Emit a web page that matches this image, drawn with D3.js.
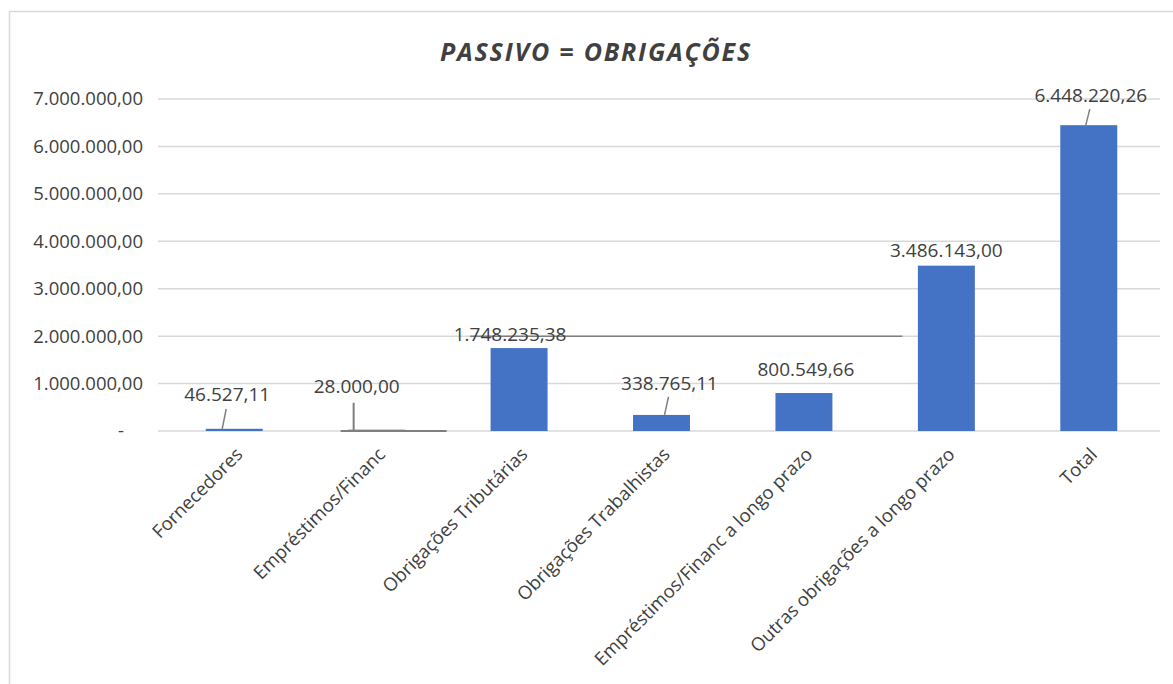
<!DOCTYPE html>
<html>
<head>
<meta charset="utf-8">
<script src="https://cdn.jsdelivr.net/npm/d3@7"></script>
<style>
  html, body { margin: 0; padding: 0; background: #fff; }
  svg { display: block; font-family: "Open Sans", "Noto Sans", sans-serif; }
</style>
</head>
<body>
<div id="chart"></div>
<script>
// Chart data
const categories = [
    'Fornecedores',
    'Empréstimos/Financ',
    'Obrigações Tributárias',
    'Obrigações Trabalhistas',
    'Empréstimos/Financ a longo prazo',
    'Outras obrigações a longo prazo',
    'Total'
];
const values = [46527.11, 28000.00, 1748235.38, 338765.11, 800549.66, 3486143.00, 6448220.26];
const yTicks = [0, 1000000, 2000000, 3000000, 4000000, 5000000, 6000000, 7000000];
const chartTitle = 'PASSIVO = OBRIGAÇÕES';

const width = 1173;
const height = 684;
const margin = {top: 99, right: 13, bottom: 253, left: 163};

const ptBR = d3.formatLocale({decimal: ',', thousands: '.', grouping: [3], currency: ['R$', '']});
const fmt = ptBR.format(',.2f');

const svg = d3.select('#chart')
    .append('svg')
    .attr('width', width)
    .attr('height', height);

// chart area border
svg.append('rect')
    .attr('x', 9.5)
    .attr('y', 11.5)
    .attr('width', width + 20)
    .attr('height', height + 20)
    .style('fill', 'none')
    .style('stroke', '#d9d9d9')
    .style('stroke-width', 1.5);

const x = d3.scaleBand()
    .domain(categories)
    .range([margin.left, width - margin.right])
    .paddingInner(0.6)
    .paddingOuter(0.3);

const y = d3.scaleLinear()
    .domain([0, 7000000])
    .range([height - margin.bottom, margin.top]);

// Title
svg.append('text')
    .attr('x', 596)
    .attr('y', 61)
    .attr('text-anchor', 'middle')
    .style('font-size', '25px')
    .style('font-weight', 'bold')
    .style('font-style', 'italic')
    .style('letter-spacing', '1.8px')
    .style('fill', '#404040')
    .text(chartTitle);

// Gridlines
svg.append('g')
    .selectAll('line')
    .data(yTicks)
    .enter()
    .append('line')
    .attr('x1', margin.left - 5)
    .attr('x2', width - margin.right)
    .attr('y1', d => y(d))
    .attr('y2', d => y(d))
    .style('stroke', '#d9d9d9')
    .style('stroke-width', 1.5);

// Y tick labels (zero shown as "-" like Excel accounting format)
svg.append('g')
    .selectAll('text')
    .data(yTicks)
    .enter()
    .append('text')
    .attr('x', d => d === 0 ? 124 : 143)
    .attr('y', d => y(d))
    .attr('dy', '0.35em')
    .attr('text-anchor', 'end')
    .style('font-size', '18.5px')
    .style('fill', '#404040')
    .text(d => d === 0 ? '-' : fmt(d));

// Bars
svg.append('g')
    .selectAll('rect')
    .data(values)
    .enter()
    .append('rect')
    .attr('x', (d, i) => x(categories[i]))
    .attr('y', d => y(d))
    .attr('width', x.bandwidth())
    .attr('height', d => y(0) - y(d))
    .style('fill', '#4472c4');

// Category labels, rotated
svg.append('g')
    .selectAll('text')
    .data(categories)
    .enter()
    .append('text')
    .attr('transform', d => `translate(${x(d) + x.bandwidth() / 2 + 5},${y(0) + 20}) rotate(-45)`)
    .attr('text-anchor', 'end')
    .attr('dy', '0.35em')
    .style('font-size', '18.5px')
    .style('fill', '#404040')
    .text(d => d);

// Data label placement (labels were dragged in the original, some with leader lines)
const labelShift = [-7, -20, -9, 8, 2, 0, 2];
const labelLift = [34, 43, 14, 32, 24, 15, 30];
const hasLeader = [true, false, false, true, false, false, true];

const cx = i => x(categories[i]) + x.bandwidth() / 2;
const labelX = i => cx(i) + labelShift[i];
const labelY = i => y(values[i]) - labelLift[i];

const leaders = svg.append('g')
    .style('stroke', '#7f7f7f')
    .style('stroke-width', 1.5)
    .style('fill', 'none');

values.forEach((v, i) => {
    if (hasLeader[i]) {
        leaders.append('line')
            .attr('x1', labelX(i) - 1)
            .attr('y1', labelY(i) + 14)
            .attr('x2', labelX(i) - 5)
            .attr('y2', y(v));
    }
});

// Empréstimos/Financ leader: drops to the axis and runs along it
leaders.append('path')
    .attr('d', `M${labelX(1) - 3},${labelY(1) + 16} V${y(0)} M${cx(1) - 36},${y(0)} H${cx(1) + 70}`)
    .style('stroke-width', 2);

// Obrigações Tributárias leader: runs along the 2M gridline to the right
leaders.append('line')
    .attr('x1', labelX(2) - 40)
    .attr('x2', cx(5) - 44)
    .attr('y1', y(2000000))
    .attr('y2', y(2000000));

// Data labels
svg.append('g')
    .selectAll('text')
    .data(values)
    .enter()
    .append('text')
    .attr('x', (d, i) => labelX(i))
    .attr('y', (d, i) => labelY(i))
    .attr('dy', '0.35em')
    .attr('text-anchor', 'middle')
    .style('font-size', '19px')
    .style('fill', '#404040')
    .text(d => fmt(d));
</script>
</body>
</html>
